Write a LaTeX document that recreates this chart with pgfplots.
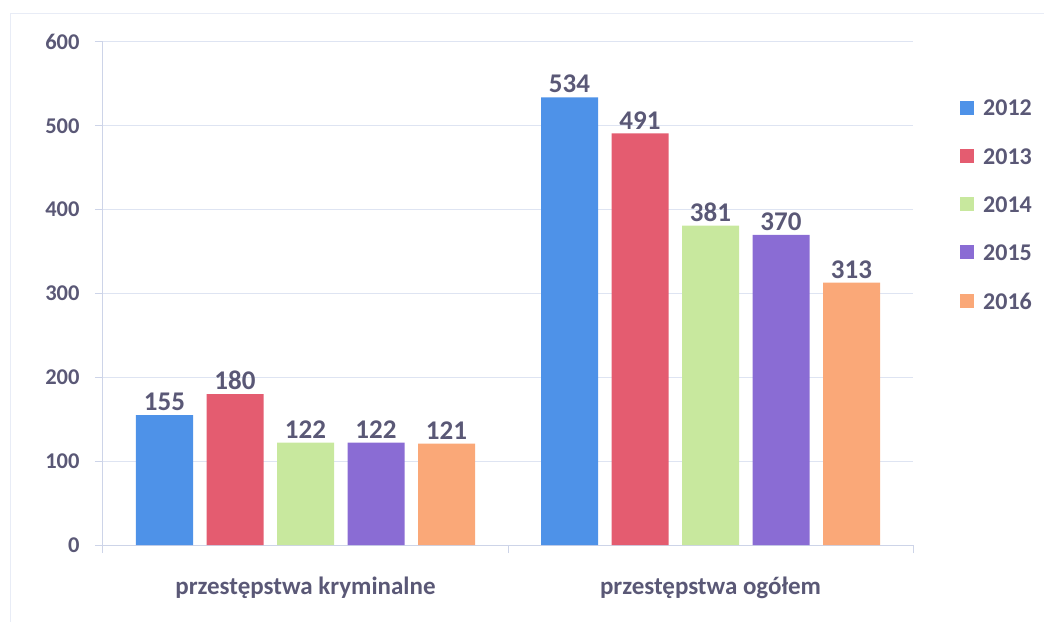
\documentclass[border=0pt]{standalone}
\usepackage{fontspec}
\setmainfont{Carlito}
\usepackage{pgfplots}
\pgfplotsset{compat=1.18}
\definecolor{txt}{RGB}{90,88,118}
\definecolor{gridc}{RGB}{222,228,242}
\definecolor{axc}{RGB}{205,212,232}
\definecolor{c12}{RGB}{78,146,232}
\definecolor{c13}{RGB}{228,92,112}
\definecolor{c14}{RGB}{200,232,158}
\definecolor{c15}{RGB}{138,108,212}
\definecolor{c16}{RGB}{250,168,120}
\begin{document}
\begin{tikzpicture}
\useasboundingbox (0,0) rectangle (1044pt,622pt);
\draw[gridc!70!white, line width=1pt] (10pt,0) -- (10pt,608pt) -- (1044pt,608pt);
\begin{axis}[
  at={(103pt,77pt)}, anchor=south west,
  scale only axis, width=810pt, height=503pt,
  ybar=13.5pt, bar width=57pt,
  xmin=-0.5, xmax=1.5, ymin=0, ymax=600,
  ytick={0,100,...,600},
  xtick={-0.5,0.5,1.5}, xticklabels={},
  extra x ticks={0,1},
  extra x tick labels={przestępstwa kryminalne, przestępstwa ogółem},
  extra x tick style={major tick length=0pt, grid=none,
     xticklabel style={yshift=-28pt}},
  tick align=outside, major tick length=8pt,
  tick style={axc, line width=1pt},
  axis line style={axc, line width=1pt},
  axis x line*=bottom, axis y line*=left,
  ymajorgrids, grid style={gridc, line width=1pt},
  /pgf/number format/assume math mode=true,
  yticklabel style={font=\fontsize{22.5}{22.5}\selectfont\bfseries, text=txt, xshift=-12pt},
  xticklabel style={font=\fontsize{25}{25}\selectfont\bfseries, text=txt},
  nodes near coords,
  every node near coord/.append style={font=\fontsize{27}{27}\selectfont\bfseries, text=txt, inner sep=4pt},
  legend style={at={(rel axis cs:1.058,0.889)}, anchor=north west, draw=none, fill=none,
     font=\fontsize{24}{24}\selectfont\bfseries, text=txt, row sep=27pt, inner sep=0pt,
     /tikz/every odd column/.append style={column sep=7pt}},
  legend cell align=left,
  legend image code/.code={\fill[#1] (0pt,-6pt) rectangle (14pt,8pt);},
]
\addplot[fill=c12, draw=none] coordinates {(0,155) (1,534)};
\addplot[fill=c13, draw=none] coordinates {(0,180) (1,491)};
\addplot[fill=c14, draw=none] coordinates {(0,122) (1,381)};
\addplot[fill=c15, draw=none] coordinates {(0,122) (1,370)};
\addplot[fill=c16, draw=none] coordinates {(0,121) (1,313)};
\legend{2012,2013,2014,2015,2016}
\end{axis}
\end{tikzpicture}
\end{document}
